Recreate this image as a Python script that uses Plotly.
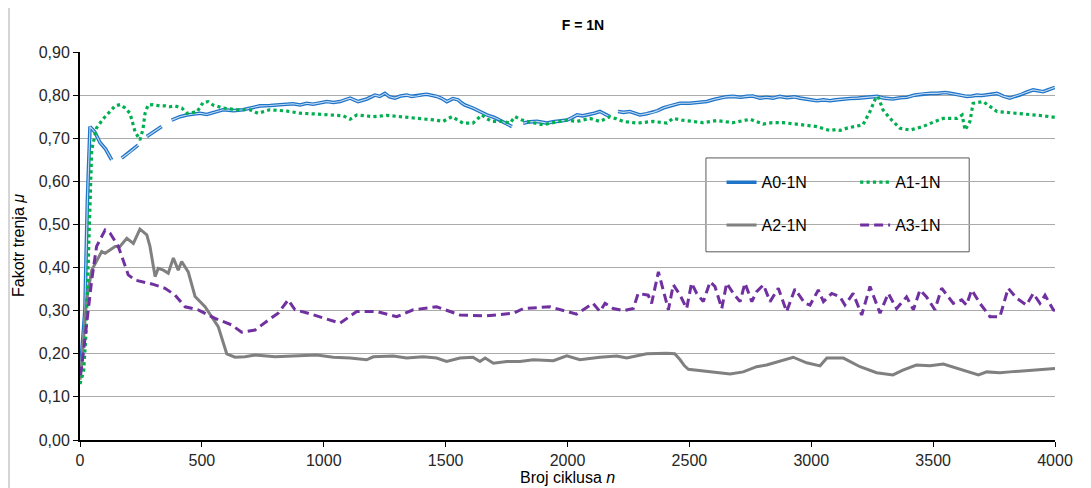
import plotly.graph_objects as go

# A0-1N (blue) -- None marks the small breaks visible in the original series
a0_n = [0, 20, 30, 38, 41, 60, 82, 105, 130, 150, 171, 205, 238, 256, 274, 305, 335, 355,
        376, 410, 438, 465, 492, 520, 554, 587, 630, 669, 700, 738, 780, 830, 874, 903, 930,
        956, 985, 1013, 1040, 1067, 1108, 1141, 1177, 1210, 1230, 1251, 1270, 1292, 1315,
        1341, 1360, 1382, 1405, 1423, 1445, 1464, 1485, 1505, 1530, 1551, 1565, 1579, 1612,
        1640, 1669, 1700, 1723, 1750, 1772, 1795, 1818, 1845, 1875, 1900, 1916, 1940, 1957,
        1998, 2020, 2039, 2062, 2084, 2110, 2133, 2150, 2174, 2190, 2207, 2230, 2256, 2280,
        2297, 2325, 2351, 2370, 2392, 2420, 2461, 2502, 2540, 2572, 2600, 2626, 2650, 2679,
        2710, 2736, 2760, 2790, 2815, 2843, 2870, 2900, 2930, 2954, 2990, 3023, 3050, 3077,
        3100, 3130, 3160, 3192, 3230, 3270, 3300, 3335, 3365, 3393, 3425, 3458, 3490, 3516,
        3550, 3582, 3610, 3639, 3660, 3680, 3700, 3721, 3740, 3762, 3790, 3815, 3835, 3856,
        3880, 3910, 3930, 3951, 3970, 3992, 4000]
a0_mu = [0.15, 0.30, 0.55, 0.70, 0.727, 0.715, 0.69, 0.675, 0.65, None, 0.654, 0.668, 0.684,
         None, 0.704, 0.716, 0.727, None, 0.742, 0.75, 0.754, 0.756, 0.758, 0.755, 0.760,
         0.766, 0.764, 0.766, 0.77, 0.775, 0.776, 0.779, 0.78, 0.777, 0.781, 0.779, 0.782,
         0.785, 0.783, 0.785, 0.793, 0.785, 0.791, 0.80, 0.797, 0.804, 0.796, 0.793, 0.798,
         0.80, 0.797, 0.798, 0.801, 0.802, 0.799, 0.797, 0.792, 0.785, 0.792, 0.789, 0.782,
         0.777, 0.770, 0.762, 0.754, 0.748, 0.742, 0.733, 0.727, None, 0.735, 0.738, 0.739,
         0.737, 0.735, 0.738, 0.739, 0.742, 0.748, 0.754, 0.752, 0.754, 0.758, 0.762, 0.757,
         0.750, None, 0.762, 0.76, 0.762, 0.758, 0.754, 0.757, 0.760, 0.764, 0.770, 0.775,
         0.781, 0.781, 0.783, 0.785, 0.79, 0.793, 0.796, 0.797, 0.795, 0.797, 0.798, 0.793,
         0.795, 0.793, 0.797, 0.794, 0.796, 0.793, 0.790, 0.787, 0.789, 0.787, 0.789, 0.791,
         0.792, 0.793, 0.795, 0.797, 0.793, 0.791, 0.794, 0.795, 0.80, 0.803, 0.804, 0.804,
         0.806, 0.803, 0.80, 0.797, 0.798, 0.80, 0.799, 0.80, 0.802, 0.804, 0.797, 0.793,
         0.797, 0.80, 0.806, 0.812, 0.81, 0.808, 0.812, 0.816, 0.818]

# A1-1N (green, dotted)
a1_n = [0, 15, 25, 32, 40, 48, 68, 95, 123, 144, 165, 185, 205, 226, 246, 258, 267, 279, 300,
        328, 350, 369, 390, 418, 438, 460, 480, 505, 525, 546, 587, 644, 697, 730, 779, 849,
        903, 972, 1038, 1080, 1108, 1136, 1170, 1202, 1259, 1300, 1341, 1380, 1423, 1460,
        1489, 1526, 1550, 1571, 1612, 1649, 1670, 1690, 1735, 1764, 1785, 1810, 1834, 1870,
        1900, 1930, 1961, 1998, 2039, 2092, 2133, 2174, 2200, 2228, 2285, 2351, 2408, 2433,
        2470, 2515, 2556, 2613, 2679, 2749, 2802, 2840, 2884, 2920, 2954, 2990, 3023, 3050,
        3077, 3100, 3118, 3150, 3172, 3212, 3241, 3262, 3274, 3294, 3323, 3364, 3405, 3458,
        3508, 3541, 3598, 3619, 3631, 3651, 3664, 3690, 3705, 3730, 3762, 3800, 3844, 3880,
        3910, 3950, 3992, 4000]
a1_mu = [0.13, 0.16, 0.25, 0.40, 0.55, 0.673, 0.724, 0.745, 0.762, 0.775, 0.778, 0.77, 0.758,
         0.715, 0.696, 0.72, 0.758, 0.777, 0.778, 0.775, 0.775, 0.773, 0.775, 0.77, 0.758,
         0.76, 0.761, 0.783, 0.785, 0.777, 0.77, 0.766, 0.766, 0.758, 0.766, 0.763, 0.758,
         0.756, 0.754, 0.752, 0.744, 0.754, 0.752, 0.75, 0.753, 0.751, 0.749, 0.747, 0.744,
         0.742, 0.739, 0.75, 0.742, 0.735, 0.735, 0.754, 0.745, 0.739, 0.739, 0.735, 0.75,
         0.743, 0.739, 0.735, 0.731, 0.735, 0.739, 0.742, 0.739, 0.746, 0.739, 0.75, 0.745,
         0.739, 0.735, 0.739, 0.735, 0.746, 0.742, 0.739, 0.736, 0.741, 0.736, 0.744, 0.733,
         0.736, 0.736, 0.734, 0.732, 0.73, 0.727, 0.722, 0.718, 0.72, 0.718, 0.724, 0.727,
         0.731, 0.762, 0.79, 0.797, 0.766, 0.746, 0.723, 0.719, 0.727, 0.739, 0.746, 0.746,
         0.754, 0.719, 0.739, 0.781, 0.783, 0.785, 0.775, 0.762, 0.76, 0.758, 0.756, 0.754,
         0.752, 0.749, 0.749]

# A2-1N (grey, solid)
a2_n = [0, 4, 27, 48, 89, 103, 144, 164, 192, 219, 246, 274, 287, 308, 321, 342, 362, 383,
        403, 417, 444, 472, 513, 540, 567, 602, 636, 677, 718, 800, 909, 971, 1039, 1108,
        1176, 1203, 1285, 1340, 1408, 1463, 1504, 1559, 1612, 1641, 1662, 1696, 1751, 1805,
        1860, 1942, 1997, 2051, 2133, 2202, 2243, 2325, 2407, 2440, 2462, 2480, 2496, 2544,
        2613, 2667, 2721, 2776, 2817, 2885, 2926, 2981, 3036, 3064, 3132, 3200, 3268, 3335,
        3376, 3431, 3487, 3542, 3624, 3686, 3720, 3774, 3815, 3911, 4000]
a2_mu = [0.14, 0.155, 0.325, 0.394, 0.437, 0.433, 0.449, 0.449, 0.468, 0.456, 0.489, 0.476,
         0.449, 0.379, 0.398, 0.394, 0.387, 0.422, 0.394, 0.414, 0.39, 0.333, 0.309, 0.286,
         0.263, 0.2, 0.192, 0.193, 0.197, 0.193, 0.195, 0.197, 0.192, 0.19, 0.186, 0.193,
         0.195, 0.19, 0.193, 0.19, 0.182, 0.19, 0.192, 0.182, 0.19, 0.178, 0.182, 0.182,
         0.186, 0.184, 0.195, 0.186, 0.192, 0.195, 0.19, 0.20, 0.201, 0.20, 0.186, 0.172,
         0.164, 0.161, 0.155, 0.153, 0.158, 0.17, 0.174, 0.186, 0.192, 0.179, 0.172, 0.19,
         0.19, 0.17, 0.156, 0.151, 0.162, 0.174, 0.172, 0.176, 0.161, 0.151, 0.158, 0.156,
         0.158, 0.162, 0.166]

# A3-1N (purple, dashed)
a3_n = [0, 7, 48, 68, 103, 123, 157, 198, 226, 294, 349, 390, 431, 485, 554, 622, 663, 718,
        772, 813, 854, 882, 936, 1005, 1067, 1135, 1217, 1299, 1367, 1463, 1559, 1668, 1778,
        1819, 1928, 2037, 2105, 2133, 2154, 2188, 2229, 2270, 2290, 2331, 2345, 2373, 2414,
        2434, 2462, 2489, 2509, 2530, 2557, 2585, 2605, 2633, 2653, 2680, 2708, 2728, 2756,
        2776, 2804, 2831, 2865, 2899, 2933, 2974, 2995, 3029, 3050, 3084, 3118, 3138, 3172,
        3207, 3241, 3282, 3316, 3350, 3391, 3419, 3446, 3473, 3507, 3535, 3583, 3617, 3637,
        3658, 3692, 3733, 3774, 3808, 3842, 3883, 3911, 3938, 3959, 3993, 4000]
a3_mu = [0.15, 0.17, 0.371, 0.449, 0.487, 0.48, 0.449, 0.383, 0.371, 0.362, 0.352, 0.336,
         0.309, 0.302, 0.282, 0.267, 0.25, 0.255, 0.278, 0.294, 0.325, 0.302, 0.294, 0.282,
         0.271, 0.298, 0.298, 0.286, 0.302, 0.309, 0.29, 0.288, 0.294, 0.305, 0.309, 0.292,
         0.317, 0.298, 0.317, 0.305, 0.30, 0.305, 0.34, 0.336, 0.317, 0.39, 0.302, 0.36,
         0.336, 0.305, 0.364, 0.34, 0.321, 0.367, 0.356, 0.305, 0.364, 0.34, 0.321, 0.364,
         0.321, 0.344, 0.36, 0.321, 0.352, 0.298, 0.35, 0.317, 0.313, 0.348, 0.321, 0.34,
         0.332, 0.313, 0.34, 0.29, 0.356, 0.294, 0.34, 0.305, 0.332, 0.302, 0.348, 0.332,
         0.302, 0.352, 0.317, 0.325, 0.313, 0.348, 0.317, 0.286, 0.286, 0.352, 0.329, 0.313,
         0.34, 0.317, 0.336, 0.302, 0.30]

x_ticks = [0, 500, 1000, 1500, 2000, 2500, 3000, 3500, 4000]

FONT = "Liberation Sans, Arial, sans-serif"

fig = go.Figure()

fig.add_trace(go.Scatter(x=a0_n, y=a0_mu, mode="lines", name="A0-1N",
                         line=dict(color="#1F74C8", width=3.6), legend="legend",
                         legendgroup="a0", connectgaps=False))
# light core of the A0 line
fig.add_trace(go.Scatter(x=a0_n, y=a0_mu, mode="lines", showlegend=False,
                         line=dict(color="#C5DCF2", width=1.1), hoverinfo="skip",
                         connectgaps=False))
fig.add_trace(go.Scatter(x=a2_n, y=a2_mu, mode="lines", name="A2-1N",
                         line=dict(color="#808080", width=3), legend="legend",
                         legendgroup="a2"))
fig.add_trace(go.Scatter(x=a1_n, y=a1_mu, mode="lines", name="A1-1N",
                         line=dict(color="#00B050", width=3.2, dash="dot"),
                         legend="legend2", legendgroup="a1"))
fig.add_trace(go.Scatter(x=a3_n, y=a3_mu, mode="lines", name="A3-1N",
                         line=dict(color="#7030A0", width=3, dash="9px,5px"),
                         legend="legend2", legendgroup="a3"))

fig.update_layout(
    width=1091, height=488,
    margin=dict(l=72, r=44, t=44, b=56),
    paper_bgcolor="white", plot_bgcolor="white",
    separators=", ",
    font=dict(family=FONT, size=16, color="#262626"),
    showlegend=True,
    title=dict(text="<b>F = 1N</b>", x=0.527, xanchor="center", y=0.965, yanchor="middle",
               font=dict(size=14, color="#000000")),
    legend=dict(x=0.658, y=0.708, xanchor="left", yanchor="top", bgcolor="rgba(0,0,0,0)",
                tracegroupgap=19, font=dict(size=16, color="#000000"), itemwidth=30),
    legend2=dict(x=0.795, y=0.708, xanchor="left", yanchor="top", bgcolor="rgba(0,0,0,0)",
                 tracegroupgap=19, font=dict(size=16, color="#000000"), itemwidth=30),
)

fig.update_xaxes(
    range=[0, 4000], tickvals=x_ticks, showgrid=False,
    showline=True, linecolor="#000000", linewidth=2,
    ticks="outside", ticklen=5, tickcolor="#000000", tickwidth=1,
    tickfont=dict(size=16, color="#262626"), zeroline=False,
)
fig.update_yaxes(
    range=[0, 0.9], dtick=0.1, tickformat=".2f",
    showgrid=True, gridcolor="#ABABAB", gridwidth=1,
    showline=True, linecolor="#000000", linewidth=2,
    ticks="outside", ticklen=5, tickcolor="#000000", tickwidth=1,
    tickfont=dict(size=16, color="#262626"), zeroline=False,
)

# legend box (opaque, hides the gridlines behind it)
fig.add_shape(type="rect", xref="paper", yref="paper",
              x0=0.642, x1=0.912, y0=0.485, y1=0.727,
              line=dict(color="#595959", width=1), fillcolor="white", layer="between")

# outer chart frame (only its left edge falls inside the picture)
fig.add_shape(type="rect", xref="paper", yref="paper",
              x0=-0.0728, x1=1.2, y0=-0.2, y1=1.3,
              line=dict(color="#C8C8C8", width=1.5), fillcolor="rgba(0,0,0,0)", layer="below")

fig.add_annotation(text="Fakotr trenja <i>μ</i>", xref="paper", yref="paper",
                   x=0, y=0.5, xanchor="center", yanchor="middle", textangle=-90,
                   xshift=-62, showarrow=False, font=dict(size=16, color="#000000"))
fig.add_annotation(text="Broj ciklusa <i>n</i>", xref="paper", yref="paper",
                   x=0.5, y=0, xanchor="center", yanchor="top", yshift=-27,
                   showarrow=False, font=dict(size=16, color="#000000"))

fig.write_html("out.html")
